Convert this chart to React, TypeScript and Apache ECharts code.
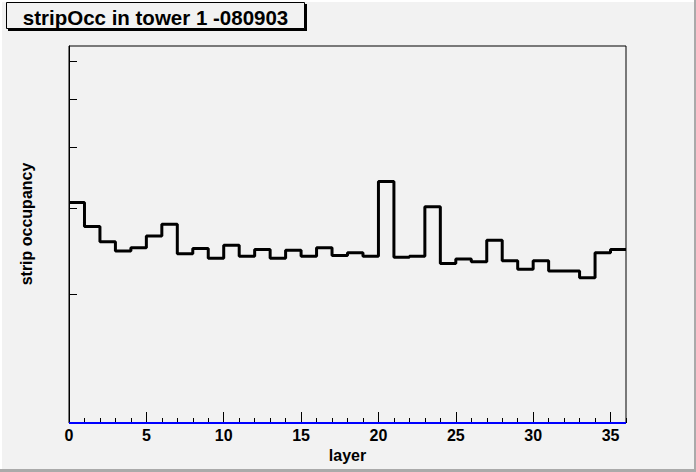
import React, { useEffect, useRef } from "react";
import * as echarts from "echarts";

// layer index (bin lower edge) and strip occupancy (log scale, arbitrary units)
const layers: number[] = Array.from({ length: 36 }, (_, i) => i);
const occupancy: number[] = [
  3.08, 2.75, 2.56, 2.45, 2.49, 2.63, 2.78, 2.42, 2.48, 2.37,
  2.52, 2.39, 2.47, 2.37, 2.46, 2.39, 2.49, 2.40, 2.43, 2.39,
  3.40, 2.38, 2.39, 3.02, 2.31, 2.36, 2.33, 2.58, 2.34, 2.25,
  2.34, 2.23, 2.23, 2.16, 2.43, 2.47,
];
// second (blue) histogram sits on the axis minimum
const baseline: number[] = Array.from({ length: 36 }, () => 1.09);
const xMajorTicks: number[] = [0, 5, 10, 15, 20, 25, 30, 35];
const yTicks: number[] = [2, 3, 4, 5, 6];
const Y_MIN = 1.09;
const Y_MAX = 6.44;
const X_MAX = 36;

const FONT = "Liberation Sans, Arial, Helvetica, sans-serif";

function toSteps(vals: number[]): [number, number][] {
  const pts: [number, number][] = layers.map((x, i) => [x, vals[i]]);
  pts.push([X_MAX, vals[vals.length - 1]]);
  return pts;
}

export default function App() {
  const ref = useRef<HTMLDivElement>(null);
  useEffect(() => {
    document.body.style.margin = "0";
    if (!ref.current) return;
    const chart = echarts.init(ref.current, null, { renderer: "svg" });
    const grid = { left: 69, top: 46, width: 557, height: 377 };
    chart.setOption({
      animation: false,
      backgroundColor: "#f2f2f2",
      grid: {
        ...grid,
        show: true,
        borderColor: "#000",
        borderWidth: 1,
        backgroundColor: "#f2f2f2",
      },
      xAxis: [
        {
          type: "value",
          min: 0,
          max: X_MAX,
          interval: 5,
          axisLine: { show: false },
          splitLine: { show: false },
          axisTick: {
            show: true,
            inside: true,
            length: 11,
            customValues: xMajorTicks,
            lineStyle: { color: "#000", width: 1 },
          },
          axisLabel: {
            show: true,
            customValues: xMajorTicks,
            margin: 4,
            fontFamily: FONT,
            fontWeight: "bold",
            fontSize: 16,
            color: "#000",
          },
        },
        {
          type: "value",
          min: 0,
          max: X_MAX,
          interval: 1,
          position: "bottom",
          axisLine: { show: false },
          splitLine: { show: false },
          axisLabel: { show: false },
          axisTick: {
            show: true,
            inside: true,
            length: 5,
            lineStyle: { color: "#000", width: 1 },
          },
        },
      ],
      yAxis: {
        type: "log",
        logBase: 10,
        min: Y_MIN,
        max: Y_MAX,
        axisLine: { show: true, lineStyle: { color: "#000", width: 1 } },
        splitLine: { show: false },
        minorTick: { show: false },
        axisTick: {
          show: true,
          inside: true,
          length: 8,
          customValues: yTicks,
          lineStyle: { color: "#000", width: 1 },
        },
        axisLabel: { show: false },
      },
      series: [
        {
          type: "line",
          name: "blue",
          xAxisIndex: 0,
          data: toSteps(baseline),
          step: "end",
          symbol: "none",
          clip: false,
          lineStyle: { color: "#0000ff", width: 2 },
          z: 3,
        },
        {
          type: "line",
          name: "stripOcc",
          xAxisIndex: 0,
          data: toSteps(occupancy),
          step: "end",
          symbol: "none",
          lineStyle: { color: "#000", width: 3 },
          z: 4,
        },
      ],
      graphic: [
        // canvas bevel
        { type: "rect", shape: { x: 0, y: 0, width: 696, height: 2 }, style: { fill: "#ffffff" }, silent: true },
        { type: "rect", shape: { x: 0, y: 0, width: 2, height: 472 }, style: { fill: "#ffffff" }, silent: true },
        { type: "rect", shape: { x: 694, y: 0, width: 2, height: 472 }, style: { fill: "#aaaaaa" }, silent: true },
        { type: "rect", shape: { x: 0, y: 469, width: 696, height: 3 }, style: { fill: "#aaaaaa" }, silent: true },
        // title box with shadow
        { type: "rect", shape: { x: 8, y: 4, width: 299, height: 27 }, style: { fill: "#000" }, silent: true },
        { type: "rect", shape: { x: 6.5, y: 2.5, width: 298, height: 26 }, style: { fill: "#f2f2f2", stroke: "#000", lineWidth: 1 }, silent: true },
        {
          type: "text",
          x: 155.5,
          y: 17,
          style: {
            text: "stripOcc in tower 1 -080903",
            fill: "#000",
            font: `bold 20.5px ${FONT}`,
            align: "center",
            verticalAlign: "middle",
          },
          silent: true,
        },
        {
          type: "text",
          x: 347.5,
          y: 455,
          style: {
            text: "layer",
            fill: "#000",
            font: `bold 16px ${FONT}`,
            align: "center",
            verticalAlign: "middle",
          },
          silent: true,
        },
        {
          type: "text",
          x: 26,
          y: 224,
          rotation: Math.PI / 2,
          style: {
            text: "strip occupancy",
            fill: "#000",
            font: `bold 16px ${FONT}`,
            align: "center",
            verticalAlign: "middle",
          },
          silent: true,
        },
      ],
    });
    return () => chart.dispose();
  }, []);
  return <div ref={ref} style={{ width: 696, height: 472 }} />;
}
